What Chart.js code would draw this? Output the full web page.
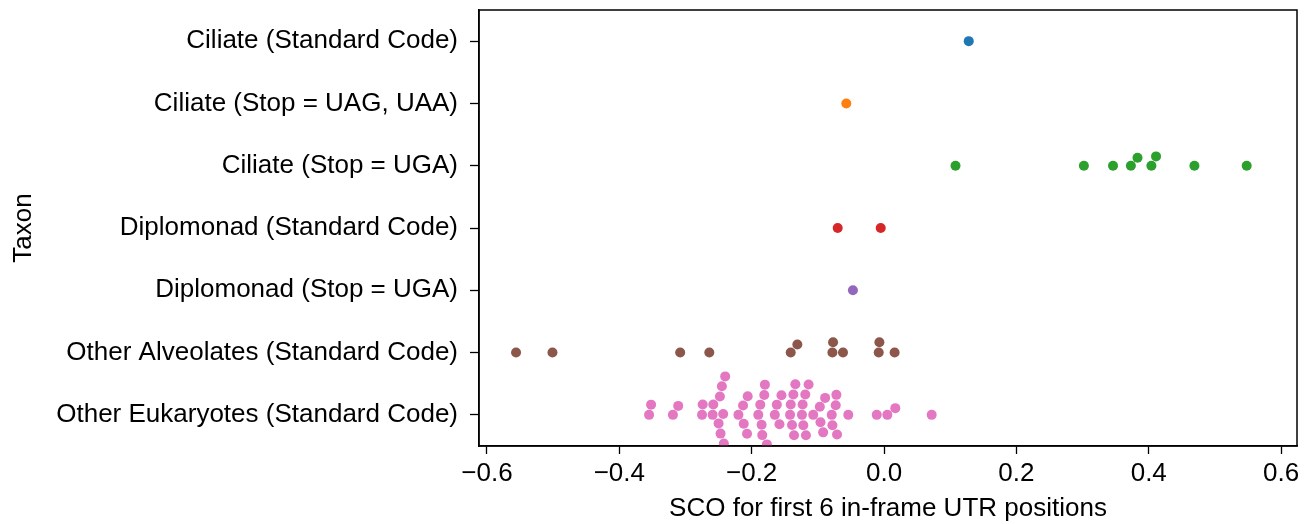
<!DOCTYPE html>
<html lang="en">
<head>
<meta charset="UTF-8">
<title>SCO swarm</title>
<script src="https://cdn.jsdelivr.net/npm/chart.js"></script>
<style>
  html, body { margin: 0; padding: 0; background: #fff; }
  #wrap { width: 1315px; height: 524px; }
</style>
</head>
<body>
<div id="wrap"><canvas id="chart" width="1315" height="524"></canvas></div>
<script>
// taxon categories (top to bottom)
const taxa = [
  'Ciliate (Standard Code)',
  'Ciliate (Stop = UAG, UAA)',
  'Ciliate (Stop = UGA)',
  'Diplomonad (Standard Code)',
  'Diplomonad (Stop = UGA)',
  'Other Alveolates (Standard Code)',
  'Other Eukaryotes (Standard Code)'
];
const colors = ['#1f77b4', '#ff7f0e', '#2ca02c', '#d62728', '#9467bd', '#8c564b', '#e377c2'];

// SCO values per taxon
const ciliateStd = [0.128];
const ciliateUagUaa = [-0.057];
const ciliateUga = [0.108, 0.302, 0.346, 0.373, 0.383, 0.404, 0.411, 0.469, 0.548];
const diploStd = [-0.070, -0.005];
const diploUga = [-0.047];
const otherAlv = [-0.556, -0.501, -0.308, -0.264, -0.141, -0.131, -0.078, -0.077, -0.062, -0.008, -0.007, 0.016];
const otherEuk = [
  -0.355, -0.352, -0.319, -0.311, -0.275, -0.274, -0.259, -0.258,
  -0.250, -0.248, -0.247, -0.245, -0.243, -0.242, -0.240,
  -0.220, -0.213, -0.212, -0.207, -0.206,
  -0.190, -0.187, -0.185, -0.184, -0.181, -0.180, -0.177,
  -0.165, -0.162, -0.158, -0.155,
  -0.142, -0.141, -0.139, -0.137, -0.136, -0.134,
  -0.124, -0.123, -0.122, -0.119, -0.118, -0.114, -0.107,
  -0.097, -0.096, -0.092, -0.089, -0.079, -0.078,
  -0.073, -0.072, -0.071, -0.054, -0.011, 0.005, 0.017, 0.072
];
const groups = [ciliateStd, ciliateUagUaa, ciliateUga, diploStd, diploUga, otherAlv, otherEuk];

const xTicks = [-0.6, -0.4, -0.2, 0.0, 0.2, 0.4, 0.6];
const FONT = 'Liberation Sans, Arial, sans-serif';
const FS = 26;
const R = 5;

// frame around the plot area (matplotlib style box)
const framePlugin = {
  id: 'frame',
  afterDraw(chart) {
    const a = chart.chartArea, c = chart.ctx;
    c.save();
    c.strokeStyle = '#000';
    c.lineWidth = 1.5;
    c.strokeRect(a.left, a.top, a.right - a.left, a.bottom - a.top);
    c.restore();
  }
};

const datasets = groups.map((vals, i) => ({
  label: taxa[i],
  data: vals.map(v => ({ x: v, y: i })),
  backgroundColor: colors[i],
  borderColor: colors[i],
  borderWidth: 0,
  pointRadius: R,
  pointHoverRadius: R
}));

const chart = new Chart(document.getElementById('chart'), {
  type: 'scatter',
  data: { datasets },
  options: {
    responsive: false,
    animation: false,
    layout: { padding: { top: 10, right: 18, left: 0, bottom: 0 } },
    plugins: { legend: { display: false }, tooltip: { enabled: false } },
    scales: {
      x: {
        type: 'linear',
        min: -0.612,
        max: 0.624,
        afterBuildTicks: s => { s.ticks = xTicks.map(v => ({ value: v })); },
        afterFit: s => { s.height = 78; s.paddingLeft = 0; s.paddingRight = 0; },
        grid: { drawOnChartArea: false, drawTicks: true, tickLength: 8, tickColor: '#000', tickWidth: 1.3 },
        border: { color: '#000', width: 1.5 },
        ticks: {
          color: '#000', padding: 4,
          font: { family: FONT, size: FS },
          callback: v => (Math.abs(v) < 1e-9 ? '0.0' : v.toFixed(1).replace('-', '\u2212'))
        },
        title: { display: true, text: 'SCO for first 6 in-frame UTR positions', color: '#000',
                 font: { family: FONT, size: FS }, padding: { top: 0, bottom: 0 } }
      },
      y: {
        type: 'linear',
        min: -0.5,
        max: 6.5,
        reverse: true,
        afterBuildTicks: s => { s.ticks = taxa.map((t, i) => ({ value: i })); },
        afterFit: s => { s.width = 479; s.paddingTop = 0; s.paddingBottom = 0; },
        grid: { drawOnChartArea: false, drawTicks: true, tickLength: 9, tickColor: '#000', tickWidth: 1.3 },
        border: { color: '#000', width: 1.5 },
        ticks: {
          color: '#000', padding: 12,
          font: { family: FONT, size: FS },
          callback: v => taxa[Math.round(v)]
        },
        title: { display: true, text: 'Taxon', color: '#000',
                 font: { family: FONT, size: FS }, padding: { top: 8, bottom: 0 } }
      }
    }
  },
  plugins: [framePlugin]
});

// beeswarm layout: offsets computed in pixel space, like seaborn's swarmplot
function swarm() {
  const xs = chart.scales.x, ys = chart.scales.y;
  const d = 2 * R + 0.4;
  const band = ys.getPixelForValue(1) - ys.getPixelForValue(0);
  groups.forEach((vals, gi) => {
    const pts = vals.map(v => ({ v, px: xs.getPixelForValue(v), off: 0 }))
      .sort((a, b) => a.px - b.px);
    const placed = [];
    pts.forEach(p => {
      const near = placed.filter(q => Math.abs(q.px - p.px) < d);
      const cands = [0];
      near.forEach(q => {
        const dy = Math.sqrt(Math.max(0, d * d - (q.px - p.px) ** 2));
        cands.push(q.off + dy, q.off - dy);
      });
      cands.sort((a, b) => Math.abs(a) - Math.abs(b) || a - b);
      for (const c of cands) {
        const ok = near.every(q => (q.px - p.px) ** 2 + (q.off - c) ** 2 >= d * d - 0.01);
        if (ok) { p.off = c; break; }
      }
      placed.push(p);
    });
    chart.data.datasets[gi].data = placed.map(p => ({ x: p.v, y: gi + p.off / band }));
  });
  chart.update('none');
}
swarm();
</script>
</body>
</html>
